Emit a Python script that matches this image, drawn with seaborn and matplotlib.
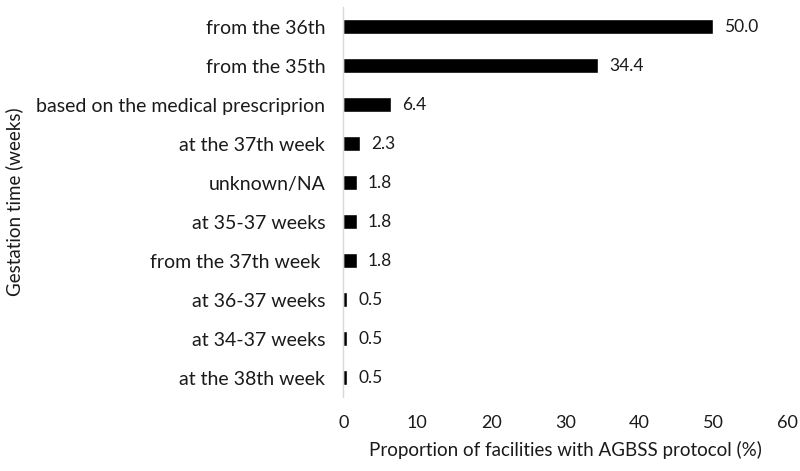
import matplotlib
matplotlib.use("Agg")
import matplotlib.pyplot as plt
import seaborn as sns
import pandas as pd

# data (top to bottom)
categories = ["from the 36th", "from the 35th", "based on the medical prescriprion",
              "at the 37th week", "unknown/NA", "at 35-37 weeks", "from the 37th week ",
              "at 36-37 weeks", "at 34-37 weeks", "at the 38th week"]
values = [50.0, 34.4, 6.4, 2.3, 1.8, 1.8, 1.8, 0.5, 0.5, 0.5]
xticks = [0, 10, 20, 30, 40, 50, 60]

df = pd.DataFrame({"cat": categories, "val": values})

sns.set_style("white")
plt.rcParams['font.family'] = ['Lato', 'DejaVu Sans']

fig = plt.figure(figsize=(8, 4.71), dpi=100)
ax = fig.add_axes([0.429, 0.157, 0.555, 0.828])

sns.barplot(data=df, x="val", y="cat", color="black", saturation=1, width=0.37, ax=ax)

for c in ax.containers:
    ax.bar_label(c, fmt="%.1f", padding=8, fontsize=12.5, color="#1a1a1a")

ax.set_xlim(0, 60)
ax.set_xticks(xticks)
ax.set_ylim(9.5, -0.5)
for s in ["top", "right", "bottom"]:
    ax.spines[s].set_visible(False)
ax.spines["left"].set_color("#d9d9d9")
ax.spines["left"].set_linewidth(1)
ax.tick_params(axis="x", length=0, pad=13, labelsize=13, labelcolor="#1a1a1a")
ax.tick_params(axis="y", length=0, pad=13, labelsize=14, labelcolor="#1a1a1a")
ax.set_xlabel("Proportion of facilities with AGBSS protocol (%)", fontsize=13.5, color="#1a1a1a", labelpad=7)
ax.set_ylabel("Gestation time (weeks)", fontsize=13.5, color="#1a1a1a")
ax.yaxis.set_label_coords(-0.72, 0.5)

fig.savefig("out.png", dpi=100)
